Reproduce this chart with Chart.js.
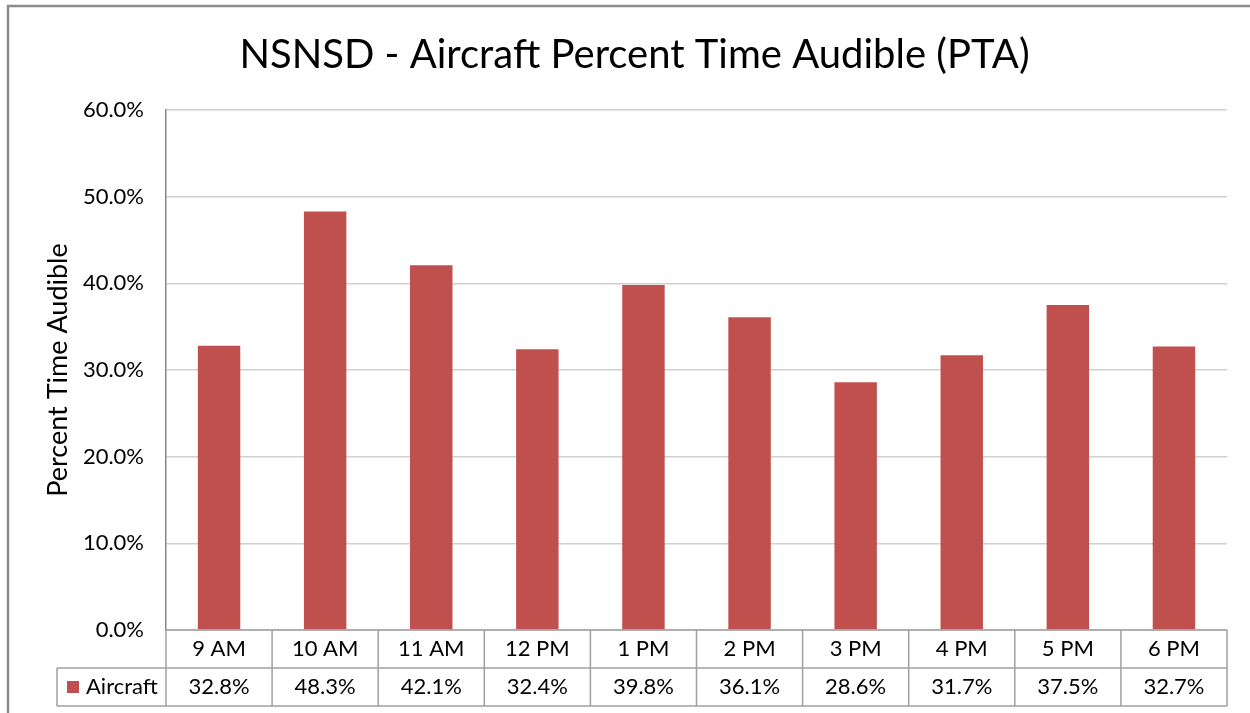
<!DOCTYPE html>
<html>
<head>
<meta charset="utf-8">
<script src="https://cdn.jsdelivr.net/npm/chart.js@4.4.1/dist/chart.umd.min.js"></script>
<style>
  html, body { margin: 0; padding: 0; background: #fff; }
  #wrap { width: 1250px; height: 713px; position: relative; }
</style>
</head>
<body>
<div id="wrap"><canvas id="ptaChart"></canvas></div>
<script>
// --- DADOS ---
const categories = ['9 AM', '10 AM', '11 AM', '12 PM', '1 PM', '2 PM', '3 PM', '4 PM', '5 PM', '6 PM'];
const aircraftValues = [32.8, 48.3, 42.1, 32.4, 39.8, 36.1, 28.6, 31.7, 37.5, 32.7];
const seriesName = 'Aircraft';
const yMax = 60;
const yStep = 10;

// --- CORES ---
const colors = {
    bar: '#C0504D',
    grid: '#D0D0D0',
    axis: '#868686',
    table: '#A0A0A0',
    frame: '#8C8C8C',
    text: '#000000'
};
const fontFamily = 'Lato, "Liberation Sans", sans-serif';

// moldura externa + fundo
const framePlugin = {
    id: 'frame',
    beforeDraw(chart) {
        const ctx = chart.ctx;
        ctx.save();
        ctx.fillStyle = '#fff';
        ctx.fillRect(0, 0, chart.width, chart.height);
        ctx.strokeStyle = colors.frame;
        ctx.lineWidth = 2.5;
        ctx.strokeRect(8, 6, chart.width + 50, chart.height + 50);
        ctx.restore();
    }
};

// tabela de dados abaixo do eixo (estilo Excel)
const dataTablePlugin = {
    id: 'dataTable',
    afterDraw(chart) {
        const ctx = chart.ctx;
        const x = chart.scales.x;
        const area = chart.chartArea;
        const rowH = 38;
        const top = area.bottom;
        const mid = top + rowH;
        const bottom = mid + rowH;
        const legendLeft = 57;
        const half = (x.getPixelForValue(1) - x.getPixelForValue(0)) / 2;

        ctx.save();
        ctx.strokeStyle = colors.table;
        ctx.lineWidth = 1.5;
        ctx.beginPath();
        // linhas horizontais
        ctx.moveTo(area.left, top); ctx.lineTo(area.right, top);
        ctx.moveTo(legendLeft, mid); ctx.lineTo(area.right, mid);
        ctx.moveTo(legendLeft, bottom); ctx.lineTo(area.right, bottom);
        // linhas verticais
        ctx.moveTo(legendLeft, mid); ctx.lineTo(legendLeft, bottom);
        categories.forEach((c, i) => {
            const px = x.getPixelForValue(i) - half;
            ctx.moveTo(px, top); ctx.lineTo(px, bottom);
        });
        ctx.moveTo(area.right, top); ctx.lineTo(area.right, bottom);
        ctx.stroke();

        ctx.fillStyle = colors.text;
        ctx.font = '22px ' + fontFamily;
        ctx.textAlign = 'center';
        ctx.textBaseline = 'middle';
        categories.forEach((c, i) => {
            const px = x.getPixelForValue(i);
            ctx.fillText(c, px, top + rowH / 2);
            ctx.fillText(aircraftValues[i].toFixed(1) + '%', px, mid + rowH / 2);
        });

        // legenda
        ctx.fillStyle = colors.bar;
        ctx.fillRect(67, mid + 13, 12, 12);
        ctx.fillStyle = colors.text;
        ctx.textAlign = 'left';
        ctx.fillText(seriesName, 86, mid + rowH / 2);
        ctx.restore();
    }
};

new Chart(document.getElementById('ptaChart'), {
    type: 'bar',
    data: {
        labels: categories,
        datasets: [{
            label: seriesName,
            data: aircraftValues,
            backgroundColor: colors.bar,
            borderWidth: 0,
            categoryPercentage: 1.0,
            barPercentage: 0.4
        }]
    },
    options: {
        responsive: true,
        maintainAspectRatio: false,
        animation: false,
        layout: { padding: { left: 42, right: 23, top: 0, bottom: 83 } },
        plugins: {
            legend: { display: false },
            tooltip: { enabled: false },
            title: {
                display: true,
                text: 'NSNSD - Aircraft Percent Time Audible (PTA)',
                color: colors.text,
                font: { family: fontFamily, size: 40, weight: 'normal' },
                padding: { top: 31, bottom: 31 }
            }
        },
        scales: {
            x: {
                display: false,
                offset: true
            },
            y: {
                min: 0,
                max: yMax,
                afterFit: scale => { scale.width = 124; },
                ticks: {
                    stepSize: yStep,
                    color: colors.text,
                    padding: 22,
                    font: { family: fontFamily, size: 22 },
                    callback: v => v.toFixed(1) + '%'
                },
                grid: { color: colors.grid, lineWidth: 1.5, drawTicks: false },
                border: { display: true, color: colors.axis, width: 1.5 },
                title: {
                    display: true,
                    text: 'Percent Time Audible',
                    color: colors.text,
                    font: { family: fontFamily, size: 27 },
                    padding: { top: 0, bottom: 8 }
                }
            }
        }
    },
    plugins: [framePlugin, dataTablePlugin]
});
</script>
</body>
</html>
